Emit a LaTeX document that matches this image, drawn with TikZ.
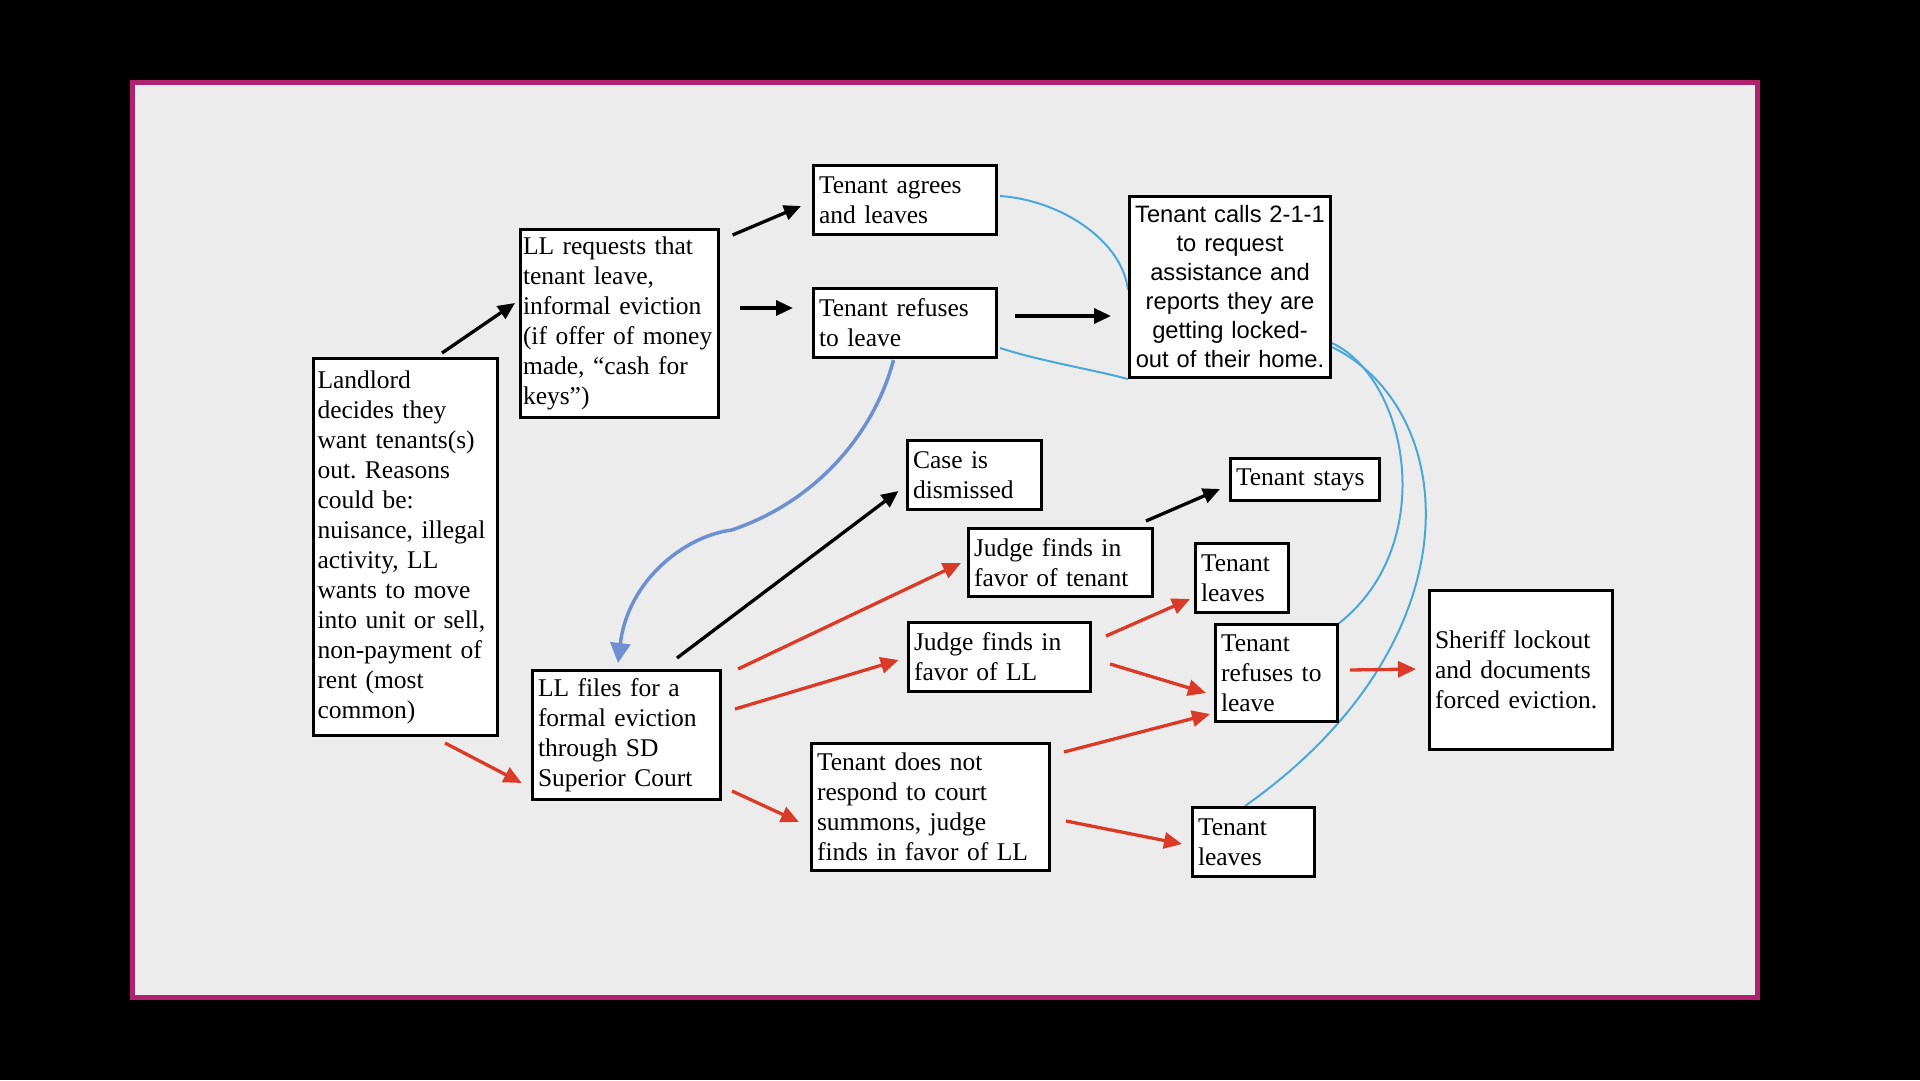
\documentclass[tikz,border=0pt]{standalone}
\usepackage{fontspec}
\setmainfont{Liberation Serif}
\newfontfamily\sansf{Liberation Sans}
\usetikzlibrary{arrows.meta,calc,shadows}
\pgfdeclarelayer{back}
\pgfdeclarelayer{bg}
\pgfsetlayers{back,bg,main}
\definecolor{framemag}{RGB}{176,34,110}
\definecolor{panel}{RGB}{236,236,236}
\definecolor{arrred}{RGB}{219,58,40}
\definecolor{thickblue}{RGB}{110,143,208}
\definecolor{thinblue}{RGB}{75,168,214}
\newcommand\serifsz{\frenchspacing\fontsize{25.5}{30}\selectfont}
\newcommand\sanssz{\sansf\fontsize{23.7}{29}\selectfont}
\begin{document}
\begin{tikzpicture}[x=1pt,y=-1pt,
  box/.style={draw=black, line width=3pt, fill=white, inner xsep=5.5pt, inner ysep=0pt,
    align=left, font=\serifsz,
    drop shadow={shadow xshift=1.5pt, shadow yshift=-1.5pt, opacity=0.25, fill=black}},
  blk/.style={draw=black, line width=3.3pt, -{Triangle[length=17pt,width=15pt]}},
  redarr/.style={draw=arrred, line width=3.3pt, -{Triangle[length=18pt,width=16pt]}},
  bluearr/.style={draw=thickblue, line width=3.5pt, -{Triangle[length=20pt,width=20pt]}},
  linkline/.style={draw=thinblue, line width=2pt}]
\useasboundingbox (0,0) rectangle (1920,1080);
\begin{pgfonlayer}{back}
  \fill[black] (0,0) rectangle (1920,1080);
  \filldraw[fill=panel, draw=framemag, line width=5pt] (132.5,82.5) rectangle (1757.5,997.5);
\end{pgfonlayer}

% boxes
\node[box, minimum width=184pt, minimum height=377pt, text width=176pt, inner xsep=4pt] (land) at (405.5,547)
  {Landlord\\decides they\\want tenants(s)\\out. Reasons\\could be:\\nuisance, illegal\\activity, LL\\wants to move\\into unit or sell,\\non-payment of\\rent (most\\common)};
\node[box, minimum width=198pt, minimum height=188pt, text width=193pt, inner xsep=2.5pt] (llreq) at (619.5,323.5)
  {LL requests that\\tenant leave,\\informal eviction\\(if offer of money\\made, “cash for\\keys”)};
\node[box, minimum width=183pt, minimum height=69pt, text width=172pt] (agree) at (905,200)
  {Tenant agrees\\and leaves};
\node[box, minimum width=183pt, minimum height=69pt, text width=172pt] (refuseA) at (905,323)
  {Tenant refuses\\to leave};
\node[box, minimum width=201pt, minimum height=181pt, text width=197pt, inner xsep=2pt, align=center, font=\sanssz] (calls) at (1230,287)
  {Tenant calls 2-1-1\\to request\\assistance and\\reports they are\\getting locked-\\out of their home.};
\node[box, minimum width=134pt, minimum height=69pt, text width=123pt] (dism) at (974.5,475)
  {Case is\\dismissed};
\node[box, minimum width=149pt, minimum height=42pt, text width=138pt] (stays) at (1305,479.5)
  {Tenant stays};
\node[box, minimum width=184pt, minimum height=68pt, text width=173pt] (jten) at (1060.5,562.5)
  {Judge finds in\\favor of tenant};
\node[box, minimum width=93pt, minimum height=69pt, text width=82pt] (leaveA) at (1242,578)
  {Tenant\\leaves};
\node[box, minimum width=182pt, minimum height=69pt, text width=171pt] (jll) at (999.5,657)
  {Judge finds in\\favor of LL};
\node[box, minimum width=122pt, minimum height=97pt, text width=111pt] (refuseB) at (1276.5,673)
  {Tenant\\refuses to\\leave};
\node[box, minimum width=183pt, minimum height=159pt, text width=172pt] (sheriff) at (1521,670)
  {Sheriff lockout\\and documents\\forced eviction.};
\node[box, minimum width=188pt, minimum height=129pt, text width=177pt] (files) at (626.5,735)
  {LL files for a\\formal eviction\\through SD\\Superior Court};
\node[box, minimum width=238pt, minimum height=127pt, text width=227pt] (noresp) at (930.5,807)
  {Tenant does not\\respond to court\\summons, judge\\finds in favor of LL};
\node[box, minimum width=122pt, minimum height=69pt, text width=111pt] (leaveB) at (1253.5,842)
  {Tenant\\leaves};

% thin blue links (behind boxes)
\begin{pgfonlayer}{bg}
  \draw[linkline] ($(agree.east)+(2,-4)$) .. controls (1060,200) and (1122,240) .. ($(calls.west)+(0,3)$);
  \draw[linkline] ($(refuseA.south east)+(2,-11)$) .. controls (1040,361) and (1090,369) .. (calls.south west);
  \draw[linkline] ($(calls.east)+(0,56)$) .. controls (1410,380) and (1440,550) .. ($(refuseB.north east)+(-5,4)$);
  \draw[linkline] ($(calls.east)+(0,60)$) .. controls (1460,410) and (1480,640) .. ($(leaveB.north)+(-8.5,0)$);
\end{pgfonlayer}

% black arrows
\draw[blk] ($(land.north)+(36.5,-4)$) -- ($(llreq.west)+(-4,-20.5)$);
\draw[blk] ($(llreq.north east)+(12.6,7)$) -- ($(agree.west)+(-11,6)$);
\draw[blk] ($(llreq.east)+(20,-15.5)$) -- ($(refuseA.west)+(-19,-15)$);
\draw[blk] ($(refuseA.east)+(17,-7)$) -- ($(calls.west)+(-17,29)$);
\draw[blk] ($(files.north)+(50.5,-11)$) -- ($(dism.west)+(-7.5,16)$);
\draw[blk] ($(jten.north east)+(-8,-6)$) -- ($(stays.west)+(-9,9.5)$);

% red arrows
\draw[redarr] ($(land.south)+(39.5,6)$) -- ($(files.west)+(-9.3,48)$);
\draw[redarr] ($(files.north east)+(16,0)$) -- ($(jten.west)+(-6,0.5)$);
\draw[redarr] ($(files.east)+(13,-26)$) -- ($(jll.west)+(-8.3,3)$);
\draw[redarr] ($(files.south east)+(10,-10)$) -- ($(noresp.west)+(-11,15)$);
\draw[redarr] ($(jll.east)+(14,-21)$) -- ($(leaveA.west)+(-4,21)$);
\draw[redarr] ($(jll.east)+(18,7)$) -- ($(refuseB.west)+(-8,20)$);
\draw[redarr] ($(noresp.north east)+(13,10)$) -- ($(refuseB.west)+(-4,41)$);
\draw[redarr] ($(noresp.east)+(15,14)$) -- ($(leaveB.west)+(-9,2)$);
\draw[redarr] ($(refuseB.east)+(11,-3)$) -- ($(sheriff.west)+(-12,-1)$);

% thick blue curved arrow
\draw[bluearr] ($(refuseA.south)+(-11.5,1)$) .. controls (875,430) and (820,500) .. (731.7,530)
  .. controls (685,536) and (628,580) .. ($(files.north)+(-8.5,-6)$);
\end{tikzpicture}
\end{document}
